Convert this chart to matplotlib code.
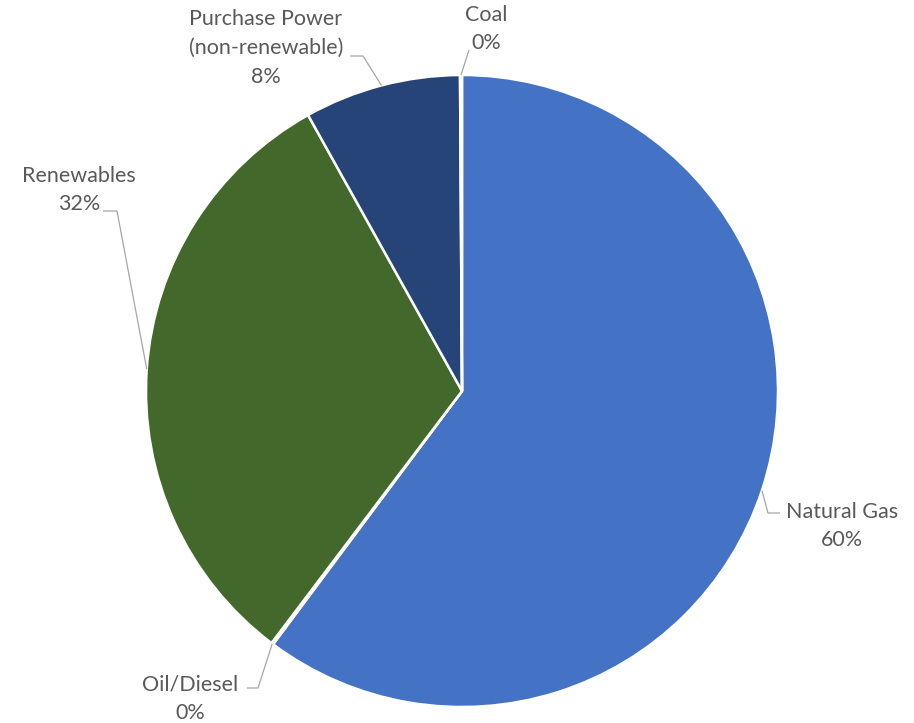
import numpy as np
import matplotlib.pyplot as plt

# Datos
categorias = ["Natural Gas", "Oil/Diesel", "Renewables", "Purchase Power\n(non-renewable)", "Coal"]
valores = [60.2, 0.1, 31.6, 8.0, 0.1]
colores = ["#4472C4", "#ED7D31", "#43682B", "#264478", "#A5A5A5"]

W, H = 914, 723
fig = plt.figure(figsize=(W / 100, H / 100), dpi=100)
ax = fig.add_axes([0, 0, 1, 1])

# centro y radio en pixeles (y hacia arriba)
cx, cy, r = 462, H - 391, 316

wedges, _ = ax.pie(valores, colors=colores, startangle=90, counterclock=False,
                   center=(cx, cy), radius=r,
                   wedgeprops=dict(edgecolor="white", linewidth=1.8))

ax.set_xlim(0, W)
ax.set_ylim(0, H)
ax.set_aspect("equal")
ax.axis("off")

# Etiquetas: posicion del texto (pantalla) y codo de la linea guia
etiquetas = [
    ((842, 526), [(768, 513), (780, 513)]),
    ((190, 699), [(258, 688), (247, 688)]),
    ((79, 190), [(117, 211), (103, 211)]),
    ((266, 48), [(363, 56), (350, 56)]),
    ((486, 29), [(469, 50)]),
]

total = sum(valores)
gris_texto = "#595959"
gris_linea = "#A6A6A6"
for w, cat, val, (pos, codo) in zip(wedges, categorias, valores, etiquetas):
    ang = np.deg2rad((w.theta1 + w.theta2) / 2)
    px = cx + r * np.cos(ang)
    py = cy + r * np.sin(ang)
    xs = [px] + [p[0] for p in codo]
    ys = [py] + [H - p[1] for p in codo]
    ax.plot(xs, ys, color=gris_linea, lw=0.9, solid_capstyle="butt")
    pct = round(val / total * 100)
    ax.text(pos[0], H - pos[1], f"{cat}\n{pct}%", ha="center", va="center",
            fontsize=15.5, color=gris_texto, family=["Lato", "DejaVu Sans"],
            linespacing=1.55)

fig.savefig("out.png", dpi=100)
